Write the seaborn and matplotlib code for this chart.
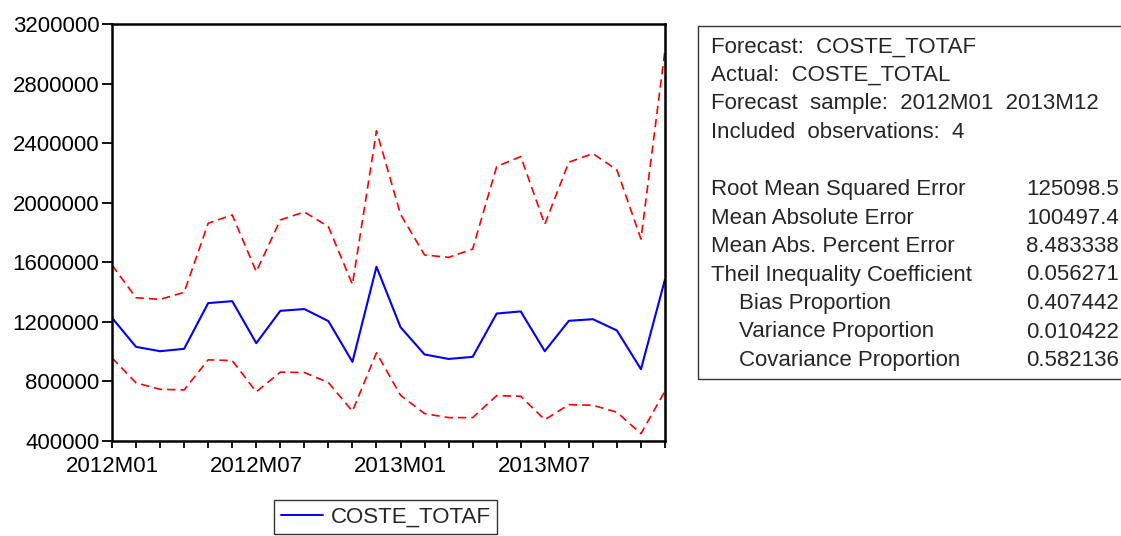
"""Forecast chart for COSTE_TOTAF with +/- 2 S.E. bands and evaluation stats."""

import matplotlib

matplotlib.use("Agg")
import matplotlib.pyplot as plt
import numpy as np
import pandas as pd
import seaborn as sns
from matplotlib.lines import Line2D
from matplotlib.patches import Rectangle
from matplotlib.ticker import FuncFormatter

# ---- data
months = [f"{y}M{m:02d}" for y in (2012, 2013) for m in range(1, 13)]
forecast = [1227000, 1032000, 1003000, 1019000, 1326000, 1339000,
            1057000, 1274000, 1286000, 1205000, 931000, 1570000,
            1164000, 981000, 951000, 965000, 1256000, 1270000,
            1003000, 1207000, 1218000, 1142000, 882000, 1485000]
upper = [1581000, 1362000, 1351000, 1398000, 1862000, 1918000,
         1537000, 1884000, 1938000, 1839000, 1451000, 2483000,
         1922000, 1649000, 1633000, 1689000, 2243000, 2310000,
         1855000, 2272000, 2330000, 2220000, 1756000, 3027000]
lower = [958000, 790000, 747000, 743000, 945000, 940000,
         730000, 862000, 860000, 792000, 600000, 992000,
         707000, 584000, 557000, 557000, 705000, 700000,
         543000, 644000, 640000, 593000, 449000, 736000]
y_ticks = [400000, 800000, 1200000, 1600000, 2000000, 2400000,
           2800000, 3200000]
labelled_months = ["2012M01", "2012M07", "2013M01", "2013M07"]

header_lines = ["Forecast:  COSTE_TOTAF",
                "Actual:  COSTE_TOTAL",
                "Forecast  sample:  2012M01  2013M12",
                "Included  observations:  4"]
stat_names = ["Root Mean Squared Error", "Mean Absolute Error",
              "Mean Abs. Percent Error", "Theil Inequality Coefficient",
              "Bias Proportion", "Variance Proportion",
              "Covariance Proportion"]
stat_values = ["125098.5", "100497.4", "8.483338", "0.056271",
               "0.407442", "0.010422", "0.582136"]
stat_indent = [False, False, False, False, True, True, True]

df = pd.DataFrame({"t": np.arange(len(months)), "month": months,
                   "forecast": forecast, "upper": upper, "lower": lower})

sns.set_style("ticks")
plt.rcParams["font.family"] = ["Liberation Sans", "DejaVu Sans"]
FS = 16

fig = plt.figure(figsize=(11.21, 5.36), dpi=100)
ax = fig.add_axes([112 / 1121, 95 / 536, 553 / 1121, 417 / 536])

sns.lineplot(data=df, x="t", y="upper", ax=ax, color="#ff0000",
             lw=1.2, linestyle=(0, (5, 3)), legend=False)
sns.lineplot(data=df, x="t", y="lower", ax=ax, color="#ff0000",
             lw=1.2, linestyle=(0, (5, 3)), legend=False)
sns.lineplot(data=df, x="t", y="forecast", ax=ax, color="#0000ff",
             lw=1.5, legend=False)

ax.set_xlim(0, len(months) - 1)
ax.set_ylim(y_ticks[0], y_ticks[-1])
ax.set_yticks(y_ticks)
ax.yaxis.set_major_formatter(FuncFormatter(lambda v, _: f"{int(v)}"))
ax.set_xticks(df["t"])
ax.set_xticklabels([m if m in labelled_months else "" for m in months])
ax.set_xlabel("")
ax.set_ylabel("")
ax.tick_params(axis="both", direction="out", labelsize=FS, width=1.3,
               color="black", labelcolor="black")
ax.tick_params(axis="y", length=7, pad=2)
ax.tick_params(axis="x", length=5, pad=6)
for side in ("left", "right", "top", "bottom"):
    ax.spines[side].set_visible(True)
    ax.spines[side].set_linewidth(1.8)
    ax.spines[side].set_color("black")

# ---- legend below the plot
handle = Line2D([], [], color="#0000ff", lw=1.4)
leg = fig.legend([handle], ["COSTE_TOTAF"], loc="upper left",
                 bbox_to_anchor=(274 / 1121, 1 - 500 / 536),
                 frameon=True, fancybox=False, fontsize=FS,
                 handlelength=1.9, handletextpad=0.35, borderpad=0.3,
                 borderaxespad=0)
leg.get_frame().set_edgecolor("black")
leg.get_frame().set_linewidth(1.0)

# ---- statistics box on the right
fig.patches.append(Rectangle((698 / 1121, 1 - 379 / 536), 0.5,
                             353 / 536, transform=fig.transFigure,
                             fill=False, edgecolor="#333333", lw=1.0))
x_left = 711 / 1121
x_indent = 739 / 1121
x_right = 1119 / 1121
line_h = 28.5
y0 = 47
for i, txt in enumerate(header_lines):
    fig.text(x_left, 1 - (y0 + i * line_h) / 536, txt, fontsize=FS,
             va="center", ha="left")
for i, (name, val, ind) in enumerate(zip(stat_names, stat_values,
                                         stat_indent)):
    yy = 1 - (y0 + (i + 5) * line_h) / 536
    fig.text(x_indent if ind else x_left, yy, name, fontsize=FS,
             va="center", ha="left")
    fig.text(x_right, yy, val, fontsize=FS, va="center", ha="right")

fig.savefig("out.png", dpi=100)
plt.close(fig)
